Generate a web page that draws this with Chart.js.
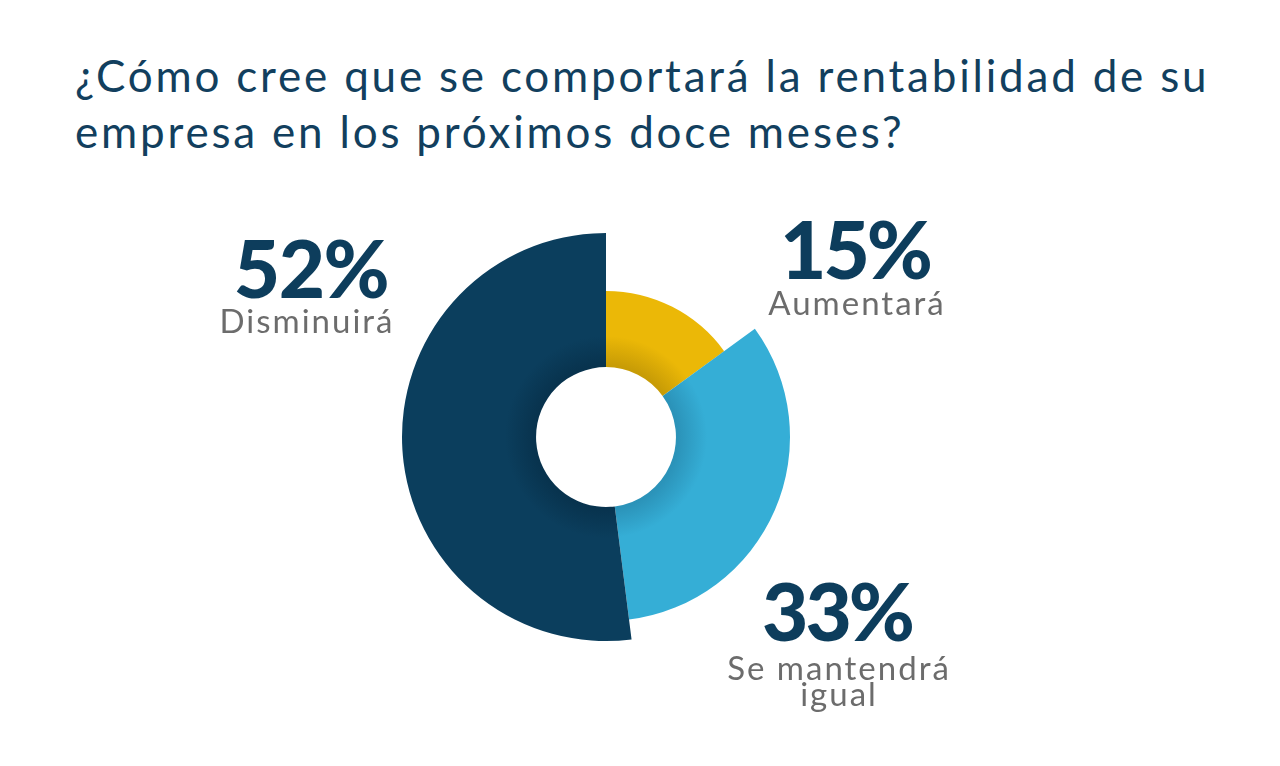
<!DOCTYPE html>
<html>
<head>
<meta charset="utf-8">
<script src="https://cdn.jsdelivr.net/npm/chart.js@4/dist/chart.umd.min.js"></script>
<style>
  html, body { margin: 0; padding: 0; background: #ffffff; width: 1280px; height: 766px; overflow: hidden; }
  body { position: relative; font-family: Lato, "Open Sans", sans-serif; }
  #title { position: absolute; left: 75px; top: 47px; font-size: 44px; line-height: 56px; color: #123f5e; font-weight: 400; letter-spacing: 2.8px; white-space: nowrap; }
  #chartBox { position: absolute; left: 396px; top: 227px; width: 420px; height: 420px; }
  .pct, .cat { position: absolute; text-align: center; white-space: nowrap; }
  .pct { font-size: 80px; font-weight: 900; color: #0d3d5c; line-height: 60px; letter-spacing: -3px; }
  .cat { font-size: 33px; color: #6c6c6c; line-height: 26px; letter-spacing: 2px; }
</style>
</head>
<body>
<div id="title">¿Cómo cree que se comportará la rentabilidad de su<br>empresa en los próximos doce meses?</div>
<div id="chartBox"><canvas id="c"></canvas></div>
<div class="pct" id="pct0" style="left:755px; top:218px; width:200px;"></div>
<div class="cat" id="cat0" style="left:757px; top:289px; width:200px;"></div>
<div class="pct" id="pct1" style="left:737px; top:580px; width:200px;"></div>
<div class="cat" id="cat1" style="left:710px; top:654px; width:258px;"></div>
<div class="pct" id="pct2" style="left:211px; top:237px; width:200px; letter-spacing:-1.5px;"></div>
<div class="cat" id="cat2" style="left:207px; top:307px; width:200px;"></div>
<script>
const categories = ["Aumentará", "Se mantendrá igual", "Disminuirá"];
const categoryLines = [["Aumentará"], ["Se mantendrá", "igual"], ["Disminuirá"]];
const values = [15, 33, 52];
const colors = ["#ebb807", "#35aed6", "#0b3e5d"];
const innerShades = ["#c89c06", "#2b93b9", "#08334e"];
// visual outer-radius factor of each slice (styling only)
const radiusFactors = [0.716, 0.902, 1.0];

values.forEach((v, i) => {
  document.getElementById('pct' + i).textContent = v + '%';
  document.getElementById('cat' + i).innerHTML = categoryLines[i].join('<br>');
});

const varRadius = {
  id: 'varRadius',
  afterDatasetsUpdate(chart) {
    const meta = chart.getDatasetMeta(0);
    meta.data.forEach((arc, i) => {
      arc.outerRadius = arc.outerRadius * radiusFactors[i];
    });
  }
};

function shadedColor(context) {
  const chart = context.chart;
  const area = chart.chartArea;
  const i = context.dataIndex;
  if (!area) return colors[i];
  const cx = (area.left + area.right) / 2;
  const cy = (area.top + area.bottom) / 2;
  const g = chart.ctx.createRadialGradient(cx, cy, 72, cx, cy, 204);
  g.addColorStop(0, innerShades[i]);
  g.addColorStop(0.22, colors[i]);
  g.addColorStop(1, colors[i]);
  return g;
}

new Chart(document.getElementById('c'), {
  type: 'doughnut',
  data: {
    labels: categories,
    datasets: [{
      data: values,
      backgroundColor: shadedColor,
      borderWidth: 0,
      hoverOffset: 0
    }]
  },
  options: {
    responsive: true,
    maintainAspectRatio: false,
    animation: false,
    events: [],
    radius: 204,
    cutout: 72,
    rotation: 0,
    layout: { padding: 0 },
    plugins: {
      legend: { display: false },
      tooltip: { enabled: false },
      title: { display: false }
    }
  },
  plugins: [varRadius]
});
</script>
</body>
</html>
